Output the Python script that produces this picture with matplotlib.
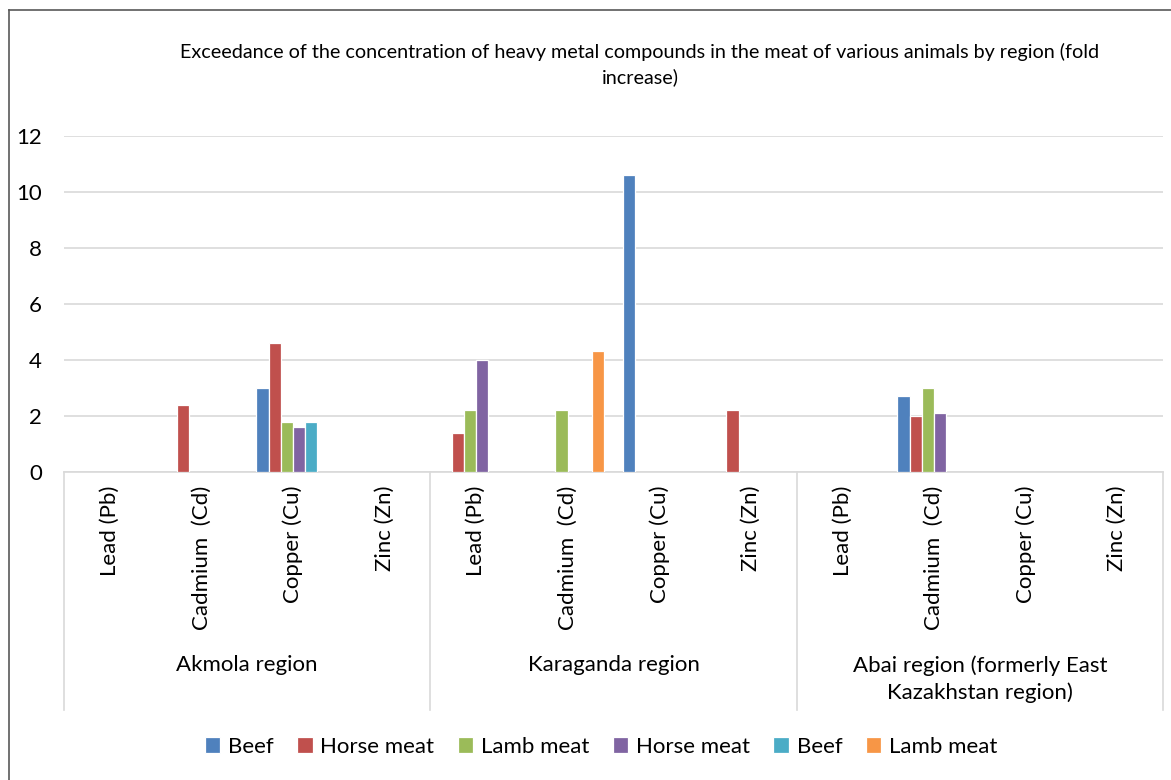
import matplotlib
matplotlib.use("Agg")
import matplotlib.pyplot as plt
import matplotlib.transforms as mtransforms
from matplotlib.lines import Line2D
import numpy as np

plt.rcParams["font.family"] = ["Lato", "DejaVu Sans"]

# -----------------------------------------------------------------------------
# 数据
# -----------------------------------------------------------------------------
regions = ["Akmola region", "Karaganda region",
           "Abai region (formerly East\nKazakhstan region)"]
metals = ["Lead (Pb)", "Cadmium  (Cd)", "Copper (Cu)", "Zinc (Zn)"]
series_names = ["Beef", "Horse meat", "Lamb meat", "Horse meat", "Beef", "Lamb meat"]
colors = ["#4F81BD", "#C0504D", "#9BBB59", "#8064A2", "#4BACC6", "#F79646"]

nan = np.nan
# 12 categories: Akmola Pb/Cd/Cu/Zn, Karaganda Pb/Cd/Cu/Zn, Abai Pb/Cd/Cu/Zn
beef_1 = [nan, nan, 3.0, nan, nan, nan, 10.6, nan, nan, 2.7, nan, nan]
horse_1 = [nan, 2.4, 4.6, nan, 1.4, nan, nan, 2.2, nan, 2.0, nan, nan]
lamb_1 = [nan, nan, 1.8, nan, 2.2, 2.2, nan, nan, nan, 3.0, nan, nan]
horse_2 = [nan, nan, 1.6, nan, 4.0, nan, nan, nan, nan, 2.1, nan, nan]
beef_2 = [nan, nan, 1.8, nan, nan, nan, nan, nan, nan, nan, nan, nan]
lamb_2 = [nan, nan, nan, nan, nan, 4.3, nan, nan, nan, nan, nan, nan]
series_values = [beef_1, horse_1, lamb_1, horse_2, beef_2, lamb_2]

title = ("Exceedance of the concentration of heavy metal compounds in the meat of various animals by region (fold\n"
         "increase)")

# -----------------------------------------------------------------------------
# 绘图
# -----------------------------------------------------------------------------
W, H = 1171, 780
FS = 16
fig = plt.figure(figsize=(W / 100, H / 100), dpi=100)
ax = fig.add_axes([64 / W, 1 - 472 / H, (1163 - 64) / W, (472 - 135.7) / H])

n_cat = len(regions) * len(metals)
x = np.arange(n_cat)
slot = 1 / 7.5
for i, (vals, c, name) in enumerate(zip(series_values, colors, series_names)):
    ax.bar(x + (i - 2.5) * slot, vals, slot, color=c, edgecolor="white",
           linewidth=0.9, label=name, zorder=3)

ax.set_xlim(-0.5, n_cat - 0.5)
ax.set_ylim(0, 12)
ax.set_yticks(np.arange(0, 13, 2))
ax.grid(axis="y", color="#D9D9D9", linewidth=1.2, zorder=0)
for s in ["top", "right", "left"]:
    ax.spines[s].set_visible(False)
ax.spines["bottom"].set_color("#D9D9D9")
ax.spines["bottom"].set_linewidth(1.2)
ax.tick_params(axis="y", length=0, pad=16, labelsize=FS)
ax.tick_params(axis="x", length=0, pad=10, labelsize=FS)
ax.set_xticks(x)
ax.set_xticklabels(metals * len(regions), rotation=90, ha="center", va="top")

# group separators
trans = mtransforms.blended_transform_factory(ax.transData, fig.transFigure)
for xs in [-0.5, 3.5, 7.5, 11.5]:
    fig.add_artist(Line2D([xs, xs], [1 - 472 / H, 1 - 710 / H], transform=trans,
                          color="#D9D9D9", linewidth=1.2))
for g, name in enumerate(regions):
    fig.text(g * 4 + 1.5, 1 - 655 / H, name, transform=trans, ha="center",
             va="top", fontsize=FS, linespacing=1.4)

fig.text(640 / W, 1 - 43 / H, title, ha="center", va="top", fontsize=14.2,
         linespacing=1.45)

fig.legend(loc="center", bbox_to_anchor=(601 / W, 1 - 747 / H), ncol=6,
           frameon=False, fontsize=FS, handlelength=0.7, handleheight=0.7,
           handletextpad=0.35, columnspacing=1.05)

# chart border
fig.add_artist(Line2D([9 / W, 1.0], [1 - 10 / H, 1 - 10 / H], transform=fig.transFigure,
                      color="#595959", linewidth=1.2))
fig.add_artist(Line2D([9 / W, 9 / W], [1 - 10 / H, 0.0], transform=fig.transFigure,
                      color="#595959", linewidth=1.2))

fig.savefig("out.png", dpi=100)
